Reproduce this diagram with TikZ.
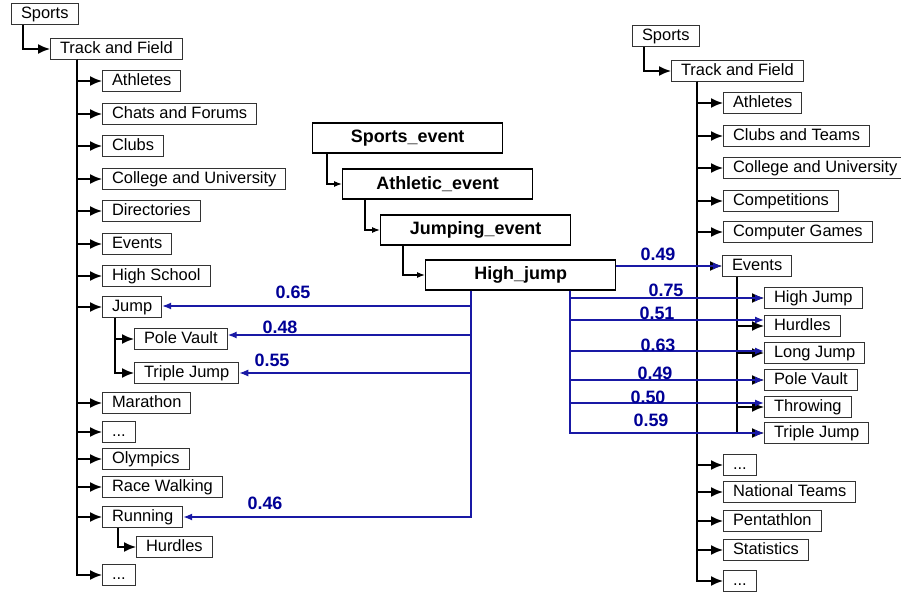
\documentclass[tikz,border=0pt]{standalone}
\usepackage{fontspec}
\setmainfont{Liberation Sans}
\usetikzlibrary{arrows.meta}
\definecolor{linkblue}{RGB}{25,25,165}
\definecolor{labelblue}{RGB}{0,0,150}

\begin{document}
\begin{tikzpicture}[x=1bp, y=-1bp,
    tbox/.style={draw=black!80, line width=1bp, anchor=west, inner xsep=9.5bp, inner ysep=2.5bp,
        text height=12bp, text depth=3.5bp, font=\fontsize{16.5}{18}\selectfont},
    cbox/.style={draw, line width=1.3bp, anchor=west, minimum width=190bp, minimum height=30bp,
        inner sep=0pt, font=\fontsize{18}{20}\selectfont\bfseries},
    tarr/.style={line width=1.6bp, -{Latex[length=12bp,width=10bp]}},
    carr/.style={line width=1.2bp, -{Latex[length=8bp,width=6bp]}},
    blink/.style={draw=linkblue, line width=1.3bp, -{Latex[length=9bp,width=7bp]}},
    wlbl/.style={text=labelblue, font=\fontsize{18}{20}\selectfont\bfseries, inner sep=0pt}]
    \useasboundingbox (0,0) rectangle (901,593);

    % left hierarchy
    \node[tbox] (sportsL) at (11,14) {Sports};
    \node[tbox] (tafL) at (50,49) {Track and Field};
    \node[tbox] (athL) at (102,81) {Athletes};
    \node[tbox] (chatL) at (102,114) {Chats and Forums};
    \node[tbox] (clubL) at (102,146) {Clubs};
    \node[tbox] (colL) at (102,179) {College and University};
    \node[tbox] (dirL) at (102,211) {Directories};
    \node[tbox] (evL) at (102,244) {Events};
    \node[tbox] (hsL) at (102,276) {High School};
    \node[tbox] (jumpL) at (102,307) {Jump};
    \node[tbox] (pvL) at (134,339) {Pole Vault};
    \node[tbox] (tjL) at (134,373) {Triple Jump};
    \node[tbox] (marL) at (102,403) {Marathon};
    \node[tbox] (dotsL) at (102,432) {...};
    \node[tbox] (olyL) at (102,459) {Olympics};
    \node[tbox] (rwL) at (102,487) {Race Walking};
    \node[tbox] (runL) at (102,517) {Running};
    \node[tbox] (hurL) at (136,547) {Hurdles};
    \node[tbox] (endL) at (102,575) {...};

    \coordinate (rootL) at ([xshift=27bp]tafL.south west);
    \draw[tarr] ([xshift=12bp]sportsL.south west) |- (tafL.west);
    \draw[tarr] (rootL) |- (athL.west);
    \draw[tarr] (rootL) |- (chatL.west);
    \draw[tarr] (rootL) |- (clubL.west);
    \draw[tarr] (rootL) |- (colL.west);
    \draw[tarr] (rootL) |- (dirL.west);
    \draw[tarr] (rootL) |- (evL.west);
    \draw[tarr] (rootL) |- (hsL.west);
    \draw[tarr] (rootL) |- (jumpL.west);
    \draw[tarr] (rootL) |- (marL.west);
    \draw[tarr] (rootL) |- (dotsL.west);
    \draw[tarr] (rootL) |- (olyL.west);
    \draw[tarr] (rootL) |- (rwL.west);
    \draw[tarr] (rootL) |- (runL.west);
    \draw[tarr] (rootL) |- (endL.west);
    \draw[tarr] ([xshift=13bp]jumpL.south west) |- (pvL.west);
    \draw[tarr] ([xshift=13bp]jumpL.south west) |- (tjL.west);
    \draw[tarr] ([xshift=16bp]runL.south west) |- (hurL.west);

    % right hierarchy
    \node[tbox] (sportsR) at (632,36) {Sports};
    \node[tbox] (tafR) at (671,71) {Track and Field};
    \node[tbox] (athR) at (723,103) {Athletes};
    \node[tbox] (ctR) at (723,136) {Clubs and Teams};
    \node[tbox] (colR) at (723,168) {College and University};
    \node[tbox] (compR) at (723,201) {Competitions};
    \node[tbox] (cgR) at (723,232) {Computer Games};
    \node[tbox] (evR) at (722,266) {Events};
    \node[tbox] (hjR) at (764,298) {High Jump};
    \node[tbox] (hurR) at (764,326) {Hurdles};
    \node[tbox] (ljR) at (764,353) {Long Jump};
    \node[tbox] (pvR) at (764,380) {Pole Vault};
    \node[tbox] (thR) at (764,407) {Throwing};
    \node[tbox] (tjR) at (764,433) {Triple Jump};
    \node[tbox] (dotsR) at (723,465) {...};
    \node[tbox] (ntR) at (723,492) {National Teams};
    \node[tbox] (penR) at (723,521) {Pentathlon};
    \node[tbox] (statR) at (723,550) {Statistics};
    \node[tbox] (endR) at (723,581) {...};

    \coordinate (rootR) at ([xshift=26bp]tafR.south west);
    \coordinate (evRoot) at ([xshift=15bp]evR.south west);
    \draw[tarr] ([xshift=12bp]sportsR.south west) |- (tafR.west);
    \draw[tarr] (rootR) |- (athR.west);
    \draw[tarr] (rootR) |- (ctR.west);
    \draw[tarr] (rootR) |- (colR.west);
    \draw[tarr] (rootR) |- (compR.west);
    \draw[tarr] (rootR) |- (cgR.west);
    \draw[tarr] (rootR) |- (evR.west);
    \draw[tarr] (rootR) |- (dotsR.west);
    \draw[tarr] (rootR) |- (ntR.west);
    \draw[tarr] (rootR) |- (penR.west);
    \draw[tarr] (rootR) |- (statR.west);
    \draw[tarr] (rootR) |- (endR.west);
    \draw[tarr] (evRoot) |- (hjR.west);
    \draw[tarr] (evRoot) |- (hurR.west);
    \draw[tarr] (evRoot) |- (ljR.west);
    \draw[tarr] (evRoot) |- (pvR.west);
    \draw[tarr] (evRoot) |- (thR.west);
    \draw[tarr] (evRoot) |- (tjR.west);

    % event concepts
    \node[cbox] (se) at (312,138) {Sports\_event};
    \node[cbox] (ae) at (342,184) {Athletic\_event};
    \node[cbox] (je) at (380,230) {Jumping\_event};
    \node[cbox] (hj) at (425,275) {High\_jump};
    \draw[carr] ([xshift=15bp]se.south west) |- (ae.west);
    \draw[carr] ([xshift=23bp]ae.south west) |- (je.west);
    \draw[carr] ([xshift=23bp]je.south west) |- (hj.west);

    % weighted links
    \coordinate (busL) at ([xshift=46bp]hj.south west);
    \coordinate (busR) at ([xshift=145bp]hj.south west);
    \draw[blink] (busL) |- ([yshift=1bp]jumpL.east);
    \draw[blink] (busL) |- ([yshift=4bp]pvL.east);
    \draw[blink] (busL) |- (tjL.east);
    \draw[blink] (busL) |- (runL.east);
    \draw[blink] (hj.east |- evR.west) -- (evR.west);
    \draw[blink] (busR) |- (hjR.west);
    \draw[blink] (busR) |- ([yshift=6bp]hurR.west);
    \draw[blink] (busR) |- ([yshift=2bp]ljR.west);
    \draw[blink] (busR) |- (pvR.west);
    \draw[blink] (busR) |- ([yshift=4bp]thR.west);
    \draw[blink] (busR) |- (tjR.west);

    \node[wlbl] (wJumpL) at (293,292) {0.65};
    \node[wlbl] (wPvL) at (280,327) {0.48};
    \node[wlbl] (wTjL) at (272,360) {0.55};
    \node[wlbl] (wRunL) at (265,503) {0.46};
    \node[wlbl] (wEvR) at (658,254) {0.49};
    \node[wlbl] (wHjR) at (666,290) {0.75};
    \node[wlbl] (wHurR) at (657,313) {0.51};
    \node[wlbl] (wLjR) at (658,345) {0.63};
    \node[wlbl] (wPvR) at (655,373) {0.49};
    \node[wlbl] (wThR) at (648,397) {0.50};
    \node[wlbl] (wTjR) at (651,420) {0.59};
\end{tikzpicture}
\end{document}
